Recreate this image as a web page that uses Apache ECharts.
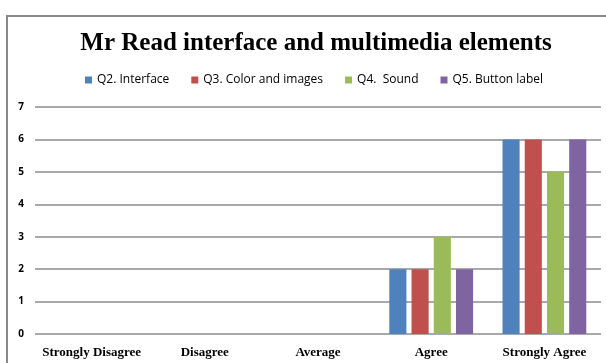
<!DOCTYPE html>
<html>
<head>
<meta charset="utf-8">
<script src="https://cdn.jsdelivr.net/npm/echarts@6/dist/echarts.min.js"></script>
<style>
  html, body { margin: 0; padding: 0; background: #fff; }
  #chart { width: 606px; height: 363px; }
</style>
</head>
<body>
<div id="chart"></div>
<script>
// 数据
var categories = ["Strongly Disagree", "Disagree", "Average", "Agree", "Strongly Agree"];
var seriesNames = ["Q2. Interface", "Q3. Color and images", "Q4.  Sound", "Q5. Button label"];
var q2Interface = [0, 0, 0, 2, 6];
var q3Color = [0, 0, 0, 2, 6];
var q4Sound = [0, 0, 0, 3, 5];
var q5Button = [0, 0, 0, 2, 6];
var colors = ["#4F81BD", "#C0504D", "#9BBB59", "#8064A2"];

var seriesData = [q2Interface, q3Color, q4Sound, q5Button];

var myChart = echarts.init(document.getElementById("chart"));

var series = [];
for (var i = 0; i < seriesNames.length; i++) {
  series.push({
    name: seriesNames[i],
    type: "bar",
    data: seriesData[i],
    barGap: "30%",
    barCategoryGap: "26%",
    itemStyle: { color: colors[i] }
  });
}

var option = {
  animation: false,
  color: colors,
  title: {
    text: "Mr Read interface and multimedia elements",
    left: 311,
    textAlign: "center",
    top: 26,
    textStyle: {
      fontFamily: "Liberation Serif",
      fontWeight: "bold",
      fontSize: 25,
      color: "#000"
    }
  },
  legend: {
    data: seriesNames,
    left: 80,
    top: 69,
    itemWidth: 7,
    itemHeight: 7,
    itemGap: 22,
    icon: "rect",
    textStyle: {
      fontFamily: "Open Sans",
      fontSize: 12,
      color: "#000"
    }
  },
  // 外框
  graphic: [{
    type: "rect",
    shape: { x: 7, y: 16, width: 610, height: 360 },
    style: { fill: "none", stroke: "#8a8a8a", lineWidth: 2 },
    silent: true
  }],
  grid: {
    left: 35,
    right: 5,
    top: 107,
    bottom: 29,
    containLabel: false
  },
  xAxis: {
    type: "category",
    data: categories,
    axisLine: { show: false },
    axisTick: { show: false },
    axisLabel: {
      interval: 0,
      hideOverlap: false,
      margin: 12,
      fontFamily: "Liberation Serif",
      fontWeight: "bold",
      fontSize: 13,
      color: "#000"
    }
  },
  yAxis: {
    type: "value",
    min: 0,
    max: 7,
    interval: 1,
    axisLine: { show: false },
    axisTick: { show: false },
    axisLabel: {
      margin: 11,
      fontFamily: "Open Sans",
      fontWeight: "bold",
      fontSize: 10,
      color: "#000"
    },
    splitLine: {
      lineStyle: { color: "#8c8c8c", width: 1.5 }
    }
  },
  series: series
};

myChart.setOption(option);
</script>
</body>
</html>
